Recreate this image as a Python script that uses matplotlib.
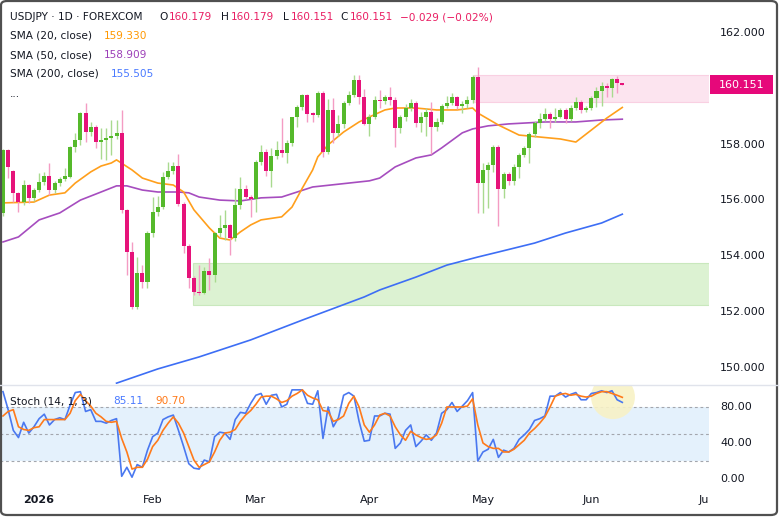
import numpy as np
import pandas as pd
import matplotlib
matplotlib.use("Agg")
import matplotlib.pyplot as plt
import matplotlib.transforms as mtransforms
from matplotlib.patches import Rectangle, Ellipse, FancyBboxPatch
from matplotlib.lines import Line2D

# daily USDJPY candles, 2025-12-23 .. 2026-06-09
opens = [155.55, 157.81, 157.05, 156.26, 155.94, 156.55, 156.08, 156.37, 156.66, 156.87,
         156.37, 156.62, 156.76, 156.84, 157.90, 158.16, 159.13, 158.45, 158.63, 158.10,
         158.16, 158.23, 158.30, 158.40, 155.66, 154.15, 152.18, 153.40, 153.08, 154.83,
         155.58, 155.76, 156.84, 157.05, 157.23, 155.87, 154.37, 153.22, 152.72, 152.68,
         153.47, 153.33, 154.83, 155.00, 155.10, 154.65, 155.83, 156.41, 156.12, 156.05,
         157.38, 157.73, 157.05, 157.59, 157.80, 157.70, 158.05, 158.99, 159.35, 159.78,
         159.10, 159.07, 159.85, 157.73, 159.24, 158.42, 158.74, 159.49, 159.78, 160.32,
         159.71, 158.74, 159.00, 159.60, 159.55, 159.70, 159.60, 158.60, 158.99, 159.31,
         159.49, 158.77, 159.00, 159.17, 158.63, 158.81, 159.38, 159.49, 159.70, 159.38,
         159.45, 159.60, 160.42, 156.62, 157.09, 157.27, 157.91, 156.41, 156.95, 156.70,
         157.20, 157.63, 157.88, 158.38, 158.77, 158.90, 159.10, 158.92, 159.00, 159.24,
         158.92, 159.31, 159.52, 159.24, 159.30, 159.67, 159.92, 160.10, 160.03, 160.35,
         160.179]
highs = [157.85, 157.85, 157.10, 156.30, 156.73, 156.60, 156.45, 156.98, 157.00, 157.34,
         156.70, 156.85, 157.16, 157.95, 158.41, 159.15, 159.49, 158.81, 158.70, 158.59,
         158.59, 158.88, 158.88, 159.24, 155.70, 154.50, 153.97, 153.70, 154.90, 156.12,
         156.15, 157.02, 157.38, 157.38, 157.66, 155.95, 154.45, 153.30, 153.68, 153.60,
         153.93, 154.85, 155.48, 155.66, 155.15, 156.44, 156.84, 156.55, 156.20, 157.45,
         157.99, 157.85, 157.88, 158.13, 158.95, 158.15, 159.00, 159.40, 159.82, 159.80,
         159.15, 159.92, 159.92, 159.63, 159.67, 159.06, 159.55, 159.92, 160.50, 160.50,
         159.99, 159.10, 159.75, 159.95, 159.78, 160.06, 159.70, 159.05, 159.45, 159.65,
         159.55, 159.15, 159.30, 159.53, 158.95, 159.45, 159.75, 159.85, 159.75, 159.55,
         159.75, 160.49, 160.78, 157.34, 157.38, 158.00, 158.00, 157.00, 157.00, 157.30,
         157.70, 157.95, 158.45, 158.85, 159.13, 159.31, 159.15, 159.31, 159.30, 159.30,
         159.40, 159.70, 159.60, 159.38, 159.75, 160.05, 160.25, 160.20, 160.40, 160.45,
         160.179]
lows = [155.45, 156.80, 155.94, 155.58, 155.85, 155.90, 155.98, 156.30, 156.55, 156.19,
        156.25, 156.50, 156.70, 156.80, 157.75, 158.00, 158.09, 158.30, 157.88, 157.48,
        157.45, 157.63, 158.20, 155.55, 153.33, 152.10, 152.10, 152.86, 152.85, 154.70,
        155.45, 155.70, 156.75, 156.95, 155.80, 154.11, 152.86, 152.60, 152.60, 152.65,
        152.79, 153.08, 154.70, 154.58, 154.04, 154.55, 155.70, 156.05, 155.41, 155.58,
        157.25, 156.87, 156.48, 157.50, 157.56, 157.34, 157.95, 158.63, 159.25, 158.81,
        158.80, 159.00, 157.56, 157.65, 158.05, 158.30, 158.60, 159.40, 159.70, 159.46,
        158.70, 158.31, 158.90, 159.30, 159.45, 159.40, 157.91, 158.40, 158.85, 159.20,
        158.63, 158.45, 158.31, 157.66, 158.50, 158.75, 159.30, 159.40, 159.27, 159.13,
        159.30, 159.50, 155.55, 155.55, 155.73, 157.00, 155.08, 156.10, 156.55, 156.55,
        156.80, 157.55, 157.34, 158.27, 158.60, 158.85, 158.60, 158.80, 158.95, 158.77,
        158.85, 159.25, 159.13, 159.15, 159.25, 159.35, 159.38, 159.70, 159.70, 159.85,
        160.151]
closes = [157.81, 157.20, 156.26, 155.94, 156.55, 156.08, 156.37, 156.66, 156.87, 156.37,
          156.62, 156.76, 156.87, 157.90, 158.16, 159.13, 158.45, 158.63, 158.10, 158.16,
          158.23, 158.30, 158.40, 155.66, 154.15, 152.18, 153.40, 153.08, 154.83, 155.58,
          155.76, 156.84, 157.05, 157.23, 155.87, 154.37, 153.22, 152.72, 152.68, 153.47,
          153.33, 154.83, 155.00, 155.10, 154.65, 155.83, 156.41, 156.12, 156.05, 157.38,
          157.73, 157.05, 157.59, 157.80, 157.70, 158.05, 158.99, 159.35, 159.78, 159.10,
          159.07, 159.85, 157.73, 159.24, 158.42, 158.74, 159.49, 159.78, 160.32, 159.71,
          158.74, 159.00, 159.60, 159.55, 159.70, 159.60, 158.60, 158.99, 159.31, 159.49,
          158.77, 159.00, 159.17, 158.63, 158.81, 159.38, 159.49, 159.70, 159.38, 159.45,
          159.60, 160.42, 156.62, 157.09, 157.27, 157.91, 156.41, 156.95, 156.70, 157.20,
          157.63, 157.88, 158.38, 158.77, 158.90, 159.10, 158.92, 159.00, 159.24, 158.92,
          159.31, 159.52, 159.24, 159.30, 159.67, 159.92, 160.10, 160.03, 160.35, 160.20,
          160.151]

# moving averages at some bars (bar number, price)
sma20_bar = [0, 6, 9, 12, 14, 17, 19, 21, 22, 25, 27, 30, 33, 35, 37, 40, 42, 44, 46, 48,
             50, 54, 56, 58, 60, 61, 63, 66, 69, 71, 74, 76, 80, 84, 88, 91, 92, 96, 100,
             104, 108, 111, 114, 117, 120]
sma20_val = [155.91, 155.94, 156.19, 156.27, 156.62, 157.02, 157.23, 157.34, 157.45, 157.09,
             156.80, 156.62, 156.55, 156.30, 155.66, 155.01, 154.65, 154.58, 154.87, 155.12,
             155.30, 155.41, 155.76, 156.44, 157.09, 157.56, 157.99, 158.45, 158.81, 158.99,
             159.24, 159.31, 159.31, 159.24, 159.24, 159.31, 159.13, 158.70, 158.34,
             158.27, 158.20, 158.09, 158.52, 158.95, 159.33]
sma50_bar = [0, 3, 7, 11, 15, 19, 22, 24, 27, 30, 34, 36, 38, 42, 46, 50, 54, 57, 60, 67,
             71, 73, 76, 80, 83, 85, 89, 91, 94, 98, 105, 111, 116, 120]
sma50_val = [154.51, 154.69, 155.30, 155.55, 156.01, 156.30, 156.52, 156.52, 156.37, 156.30,
             156.30, 156.27, 156.12, 156.01, 155.98, 156.09, 156.12, 156.30, 156.48, 156.62,
             156.70, 156.80, 157.20, 157.52, 157.63, 157.88, 158.42, 158.56, 158.67, 158.74,
             158.81, 158.81, 158.88, 158.909]
sma200_bar = [22, 30, 38, 48, 58, 70, 73, 80, 86, 92, 96, 103, 109, 116, 120]
sma200_val = [149.45, 149.96, 150.39, 151.00, 151.71, 152.54, 152.79, 153.25, 153.68, 153.97,
              154.15, 154.47, 154.83, 155.19, 155.505]

stoch_k = [97, 77, 54, 46, 63, 51, 58, 67, 72, 60,
           66, 68, 66, 82, 96, 97, 75, 77, 64, 64,
           62, 65, 67, 3, 13, 2, 16, 13, 32, 47,
           51, 66, 69, 71, 54, 36, 17, 12, 11, 21,
           19, 47, 52, 51, 44, 66, 74, 73, 84, 93,
           95, 83, 93, 94, 80, 83, 99, 99, 99, 84,
           83, 98, 45, 80, 58, 68, 93, 96, 92, 64,
           42, 43, 70, 70, 73, 72, 34, 40, 54, 60,
           36, 42, 49, 43, 51, 73, 77, 85, 75, 81,
           87, 96, 20, 30, 33, 44, 24, 32, 30, 34,
           44, 49, 55, 65, 67, 70, 92, 92, 96, 91,
           94, 96, 88, 88, 95, 96, 98, 96, 98, 88,
           85.11]
stoch_d = [70, 75, 77, 58, 55, 54, 57, 58, 66, 66,
           66, 66, 66, 73, 87, 94, 87, 81, 73, 69,
           64, 63, 64, 45, 30, 11, 13, 13, 22, 36,
           43, 54, 62, 69, 62, 51, 36, 21, 13, 16,
           19, 30, 43, 51, 52, 55, 64, 71, 76, 83,
           91, 92, 92, 89, 85, 87, 92, 95, 99, 93,
           90, 88, 76, 75, 64, 66, 70, 84, 92, 80,
           60, 52, 60, 71, 73, 70, 58, 49, 43, 53,
           49, 46, 44, 45, 49, 62, 80, 80, 80, 80,
           81, 89, 60, 40, 36, 34, 34, 30, 30, 33,
           38, 43, 51, 56, 62, 69, 80, 92, 94, 95,
           93, 94, 92, 91, 92, 95, 97, 97, 95, 93,
           90.70]

supply_zone = (159.54, 160.49)
demand_zone = (152.25, 153.76)

UP = "#55b92b"
DN = "#e6137a"
UP_WICK = "#a9da8f"
DN_WICK = "#f49cc3"
TXT = "#131722"
PINK_TXT = "#e91e63"

W, H = 780, 517


def fx(px):
    return px / W


def fy(py):
    return 1 - py / H


dates = pd.bdate_range("2025-12-23", periods=140)
n = len(closes)
x = np.arange(n)
o, hi, lo, c = map(np.array, (opens, highs, lows, closes))
xlim = (-0.58, 136.8)

fig = plt.figure(figsize=(7.8, 5.17), dpi=100)
ax = fig.add_axes([0, fy(384), fx(709), 384 / H])
ax_st = fig.add_axes([0, fy(487), fx(709), 102 / H])
ax_t = fig.add_axes([0, 0, fx(709), 30 / H])
for a in (ax, ax_st, ax_t):
    a.set_axis_off()
    a.set_xlim(*xlim)

ax.set_ylim(149.42, 163.18)
ax_st.set_ylim(-8.9, 104.4)
ax_t.set_ylim(0, 1)

# zones
ax.add_patch(Rectangle((91.2, supply_zone[0]), 60, supply_zone[1] - supply_zone[0],
                       fc="#fce4ef", ec="#f9d0e2", lw=0.8, zorder=0))
ax.add_patch(Rectangle((36.8, demand_zone[0]), 120, demand_zone[1] - demand_zone[0],
                       fc="#dcf2d2", ec="#c9e8bd", lw=0.8, zorder=0))

# moving averages
ax.plot(sma200_bar, sma200_val, color="#3d6ef5", lw=1.2, zorder=2)
ax.plot(sma50_bar, sma50_val, color="#a64dbf", lw=1.2, zorder=2)
ax.plot(sma20_bar, sma20_val, color="#ff9f1c", lw=1.2, zorder=2)

# candles
up = c >= o
body = np.maximum(np.abs(c - o), 0.05)
bot = np.minimum(o, c)
ax.vlines(x[up], lo[up], hi[up], color=UP_WICK, lw=1.0, zorder=3)
ax.vlines(x[~up], lo[~up], hi[~up], color=DN_WICK, lw=1.0, zorder=3)
ax.bar(x[up], body[up], bottom=bot[up], width=0.78, color=UP, lw=0, zorder=4)
ax.bar(x[~up], body[~up], bottom=bot[~up], width=0.78, color=DN, lw=0, zorder=4)

# stochastic panel
ax_st.axhspan(20, 80, color="#e4f1fc", lw=0, zorder=0)
for lvl in (80, 50, 20):
    ax_st.axhline(lvl, color="#a3a6ad", lw=0.8, ls=(0, (2.5, 2.5)), zorder=1)
ax_st.add_patch(Ellipse((118.2, 91), 8.5, 49, fc="#f8f2c6", ec="none", alpha=0.9, zorder=1))
ax_st.plot(x, stoch_k, color="#4a78f0", lw=1.2, zorder=3)
ax_st.plot(x, stoch_d, color="#ff7a1a", lw=1.2, zorder=3)

# time axis
month_first = [i for i in range(1, len(dates)) if dates[i].month != dates[i - 1].month]
for i in month_first:
    d = dates[i]
    lab = str(d.year) if d.month == 1 else d.strftime("%b")
    ax_t.text(i, 0.57, lab, ha="center", va="center", fontsize=8, color=TXT,
              fontweight="bold" if d.month == 1 else "normal", clip_on=True)

# price axis (160 is hidden under the last-price tag)
tr_main = mtransforms.blended_transform_factory(fig.transFigure, ax.transData)
tr_st = mtransforms.blended_transform_factory(fig.transFigure, ax_st.transData)
for p in range(150, 163, 2):
    if p == 160:
        continue
    fig.text(fx(720), p, f"{p:.3f}", transform=tr_main, ha="left", va="center",
             fontsize=8, color=TXT)
for v in (80, 40, 0):
    fig.text(fx(720), v, f"{v:.2f}", transform=tr_st, ha="left", va="center",
             fontsize=8, color=TXT)
tag = Rectangle((fx(710), c[-1] - 0.33), fx(63), 0.66, transform=tr_main, fc="#e6087a", ec="none")
fig.add_artist(tag)
fig.text(fx(741.5), c[-1], f"{c[-1]:.3f}", transform=tr_main, ha="center", va="center",
         fontsize=8, color="white")

# legend texts
def put(px, py, s, col=TXT, **kw):
    fig.text(fx(px), fy(py), s, ha="left", va="center", fontsize=7.6, color=col, **kw)


put(10, 17, "USDJPY · 1D · FOREXCOM")
put(159, 17, "O")
put(169, 17, "160.179", PINK_TXT)
put(221, 17, "H")
put(231, 17, "160.179", PINK_TXT)
put(283, 17, "L")
put(291, 17, "160.151", PINK_TXT)
put(340, 17, "C")
put(350, 17, "160.151", PINK_TXT)
put(400, 17, "\u22120.029 (\u22120.02%)", PINK_TXT)
put(10, 36, "SMA (20, close)")
put(104, 36, "159.330", "#ff9800")
put(10, 55, "SMA (50, close)")
put(104, 55, "158.909", "#9c3fb8")
put(10, 74, "SMA (200, close)")
put(111, 74, "155.505", "#4a7aff")
put(10, 94, "...")
put(10, 401, "Stoch (14, 1, 3)")
put(113, 401, "85.11", "#4a7aff")
put(155, 401, "90.70", "#ff7a1a")

# separators and frame
fig.add_artist(Line2D([0, fx(778)], [fy(384.5), fy(384.5)], transform=fig.transFigure,
                      color="#e0e3eb", lw=1))
fig.add_artist(FancyBboxPatch((fx(1), fy(515)), fx(776), 514 / H, transform=fig.transFigure,
                              boxstyle="round,pad=0,rounding_size=0.008", fc="none",
                              ec="#505050", lw=1.6))

fig.savefig("out.png", dpi=100)
